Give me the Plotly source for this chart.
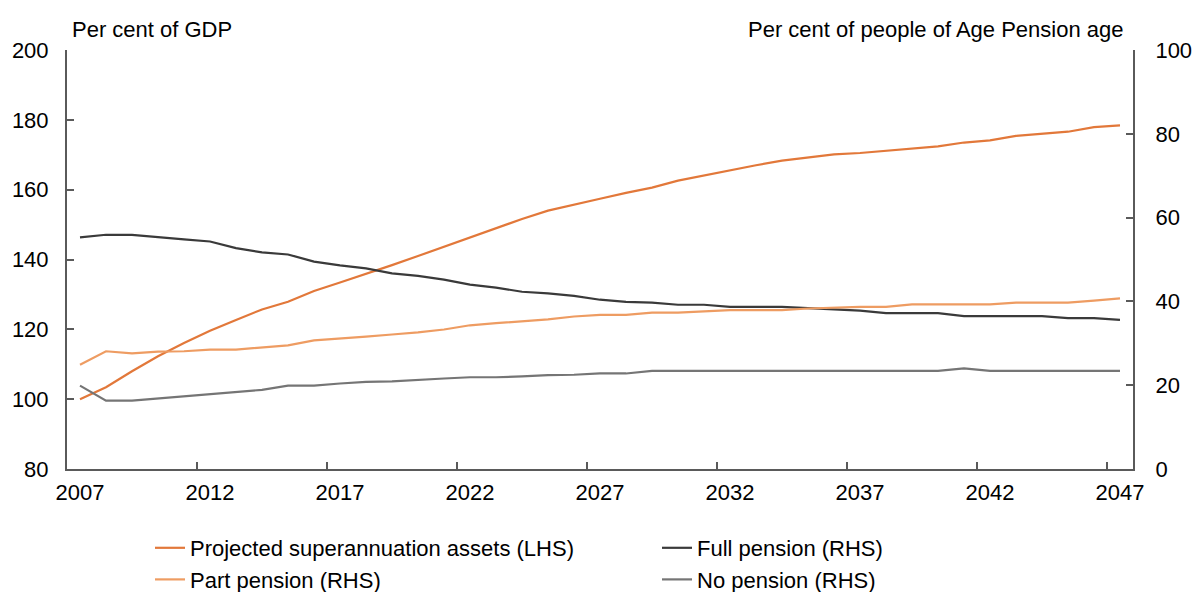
import plotly.graph_objects as go

years = list(range(2007, 2048))

super_assets = [100.0, 103.4, 108.0, 112.3, 116.1, 119.6, 122.7, 125.7, 127.9, 131.0,
                133.4, 135.8, 138.4, 141.0, 143.7, 146.3, 148.9, 151.6, 154.0, 155.8,
                157.4, 159.1, 160.6, 162.6, 164.1, 165.5, 167.0, 168.3, 169.3, 170.1,
                170.5, 171.2, 171.9, 172.4, 173.5, 174.1, 175.4, 176.0, 176.6, 177.9, 178.4]

full_pension = [55.3, 55.9, 55.9, 55.3, 54.8, 54.3, 52.7, 51.7, 51.2, 49.5,
                48.6, 47.9, 46.7, 46.1, 45.2, 44.0, 43.3, 42.3, 41.9, 41.3,
                40.4, 39.9, 39.7, 39.2, 39.2, 38.7, 38.7, 38.7, 38.4, 38.1,
                37.8, 37.2, 37.2, 37.2, 36.5, 36.5, 36.5, 36.5, 36.0, 36.0, 35.6]

part_pension = [24.9, 28.1, 27.6, 28.0, 28.1, 28.5, 28.5, 29.0, 29.5, 30.7,
                31.1, 31.6, 32.1, 32.6, 33.3, 34.3, 34.8, 35.3, 35.7, 36.4,
                36.8, 36.8, 37.3, 37.3, 37.6, 37.9, 37.9, 37.9, 38.3, 38.5,
                38.7, 38.7, 39.3, 39.3, 39.3, 39.3, 39.7, 39.7, 39.7, 40.2, 40.7]

no_pension = [19.9, 16.3, 16.3, 16.8, 17.3, 17.9, 18.4, 18.9, 19.9, 19.9,
              20.4, 20.8, 20.9, 21.3, 21.6, 21.9, 21.9, 22.1, 22.4, 22.5,
              22.8, 22.8, 23.4, 23.4, 23.4, 23.4, 23.4, 23.4, 23.4, 23.4,
              23.4, 23.4, 23.4, 23.4, 24.0, 23.4, 23.4, 23.4, 23.4, 23.4, 23.4]

label_years = [2007, 2012, 2017, 2022, 2027, 2032, 2037, 2042, 2047]
tick_bounds = [2011.5, 2016.5, 2021.5, 2026.5, 2031.5, 2036.5, 2041.5, 2046.5]

FONT = "Liberation Sans, Arial, sans-serif"
FS = 22
AXC = "#5a5a5a"

fig = go.Figure()
fig.add_trace(go.Scatter(x=years, y=super_assets, mode="lines",
                         name="Projected superannuation assets (LHS)",
                         line=dict(color="#E2783A", width=2.2), yaxis="y"))
fig.add_trace(go.Scatter(x=years, y=full_pension, mode="lines",
                         name="Full pension (RHS)",
                         line=dict(color="#3a3a3a", width=2.2), yaxis="y2"))
fig.add_trace(go.Scatter(x=years, y=part_pension, mode="lines",
                         name="Part pension (RHS)",
                         line=dict(color="#EE9C62", width=2.2), yaxis="y2"))
fig.add_trace(go.Scatter(x=years, y=no_pension, mode="lines",
                         name="No pension (RHS)",
                         line=dict(color="#757575", width=2.2), yaxis="y2"))

fig.update_layout(
    width=1192, height=592,
    margin=dict(l=67, r=59, t=50, b=123, autoexpand=False),
    plot_bgcolor="white", paper_bgcolor="white",
    font=dict(family=FONT, size=FS, color="#000000"),
    xaxis=dict(range=[2006.5, 2047.5], tickmode="array", tickvals=label_years,
               ticktext=[str(y) for y in label_years], ticks="",
               showline=True, linecolor=AXC, linewidth=2, showgrid=False,
               zeroline=False, ticklabelstandoff=3,
               minor=dict(tickmode="array", tickvals=tick_bounds, ticks="inside",
                          ticklen=7, tickwidth=1.5, tickcolor=AXC, showgrid=False)),
    yaxis=dict(range=[80, 200], tickmode="array", tickvals=[80, 100, 120, 140, 160, 180, 200],
               ticks="inside", ticklen=7, tickwidth=1.5, tickcolor=AXC,
               showline=True, linecolor=AXC, linewidth=2, showgrid=False,
               zeroline=False, ticklabelstandoff=12),
    yaxis2=dict(range=[0, 100], tickmode="array", tickvals=[0, 20, 40, 60, 80, 100],
                overlaying="y", side="right", anchor="x",
                ticks="inside", ticklen=7, tickwidth=1.5, tickcolor=AXC,
                showline=True, linecolor=AXC, linewidth=2, showgrid=False,
                zeroline=False, ticklabelstandoff=16),
    legend=dict(orientation="h", x=(150 - 67) / 1066, xanchor="left",
                y=-58 / 419, yanchor="top", entrywidth=462, entrywidthmode="pixels",
                font=dict(family=FONT, size=FS, color="#000000"),
                bgcolor="rgba(0,0,0,0)", tracegroupgap=0, itemwidth=30),
    showlegend=True,
    annotations=[
        dict(text="Per cent of GDP", xref="paper", yref="paper", x=0.003, y=1.0,
             xanchor="left", yanchor="bottom", showarrow=False, yshift=6,
             font=dict(family=FONT, size=FS)),
        dict(text="Per cent of people of Age Pension age", xref="paper", yref="paper",
             x=0.993, y=1.0, xanchor="right", yanchor="bottom", showarrow=False, yshift=6,
             font=dict(family=FONT, size=FS)),
    ],
)

fig.write_html("out.html", config={"displayModeBar": False},
               post_script="document.body.style.margin='0';document.body.style.overflow='hidden';")
